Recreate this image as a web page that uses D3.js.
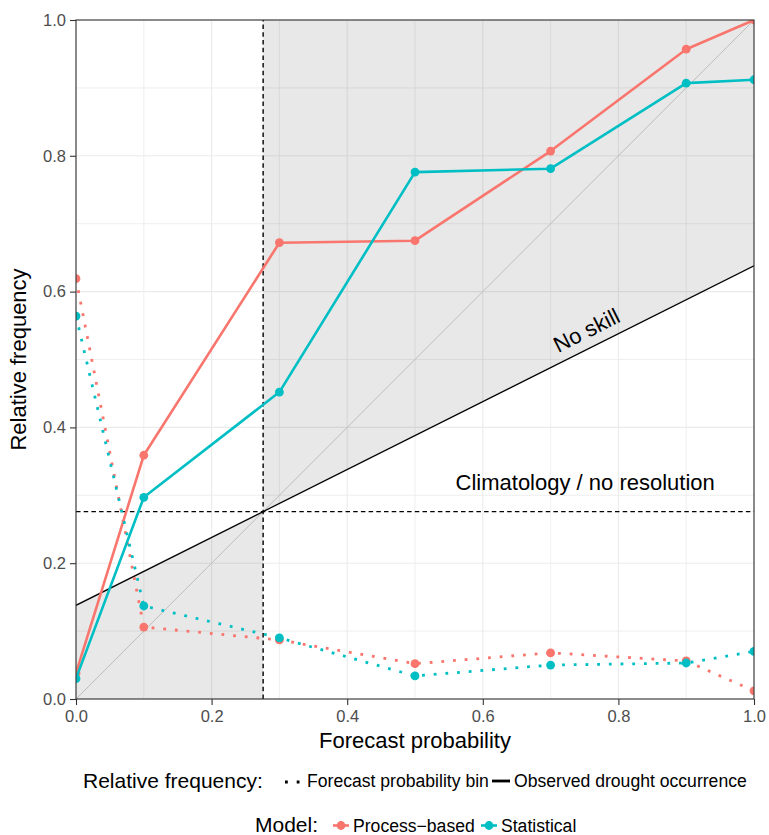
<!DOCTYPE html>
<html>
<head>
<meta charset="utf-8">
<script src="https://cdn.jsdelivr.net/npm/d3@7/dist/d3.min.js"></script>
<style>
  html, body { margin: 0; padding: 0; background: #fff; }
  svg { display: block; font-family: "Liberation Sans", Arial, sans-serif; }
</style>
</head>
<body>
<svg id="chart" width="769" height="835"></svg>
<script>
// Forecast probability bins (x positions)
const probBins = [0, 0.1, 0.3, 0.5, 0.7, 0.9, 1.0];
// Observed drought occurrence per bin
const processObserved = [0.038, 0.359, 0.672, 0.675, 0.807, 0.957, 1.0];
const statisticalObserved = [0.030, 0.297, 0.452, 0.776, 0.781, 0.907, 0.912];
// Share of forecasts falling in each bin
const processBinFreq = [0.619, 0.106, 0.087, 0.052, 0.068, 0.056, 0.012];
const statisticalBinFreq = [0.564, 0.137, 0.090, 0.034, 0.050, 0.053, 0.070];
// Climatological drought frequency
const climatology = 0.276;
const tickValues = [0, 0.2, 0.4, 0.6, 0.8, 1.0];
const gridValues = [0, 0.1, 0.2, 0.3, 0.4, 0.5, 0.6, 0.7, 0.8, 0.9, 1.0];
const models = ["Process\u2212based", "Statistical"];
const modelColors = ["#F8766D", "#00BFC4"];

const svg = d3.select("#chart");
const plot = { left: 76, right: 754, top: 20, bottom: 699 };
const x = d3.scaleLinear().domain([0, 1]).range([plot.left, plot.right]);
const y = d3.scaleLinear().domain([0, 1]).range([plot.bottom, plot.top]);

svg.append("rect").attr("width", 769).attr("height", 835).attr("fill", "#fff");

svg.append("defs").append("clipPath").attr("id", "panel")
  .append("rect").attr("x", plot.left).attr("y", plot.top)
  .attr("width", plot.right - plot.left).attr("height", plot.bottom - plot.top);

// grid
const grid = svg.append("g");
grid.selectAll("line.v").data(gridValues).join("line")
  .attr("x1", d => x(d)).attr("x2", d => x(d))
  .attr("y1", plot.top).attr("y2", plot.bottom)
  .attr("stroke", "#ebebeb").attr("stroke-width", d => (Math.round(d * 10) % 2 === 0 ? 1.1 : 0.8));
grid.selectAll("line.h").data(gridValues).join("line")
  .attr("y1", d => y(d)).attr("y2", d => y(d))
  .attr("x1", plot.left).attr("x2", plot.right)
  .attr("stroke", "#ebebeb").attr("stroke-width", d => (Math.round(d * 10) % 2 === 0 ? 1.1 : 0.8));

const panel = svg.append("g").attr("clip-path", "url(#panel)");
const noSkill = p => (p + climatology) / 2;

// skill regions
const area = d3.line().x(d => x(d[0])).y(d => y(d[1]));
panel.append("path")
  .attr("d", area([[0, 0], [climatology, 0], [climatology, noSkill(climatology)], [0, noSkill(0)]]) + "Z")
  .attr("fill", "rgba(0,0,0,0.09)");
panel.append("path")
  .attr("d", area([[climatology, noSkill(climatology)], [1, noSkill(1)], [1, 1], [climatology, 1]]) + "Z")
  .attr("fill", "rgba(0,0,0,0.09)");

// perfect reliability diagonal
panel.append("line").attr("x1", x(0)).attr("y1", y(0)).attr("x2", x(1)).attr("y2", y(1))
  .attr("stroke", "#bdbdbd").attr("stroke-width", 1);
// no-skill line
panel.append("line").attr("x1", x(0)).attr("y1", y(noSkill(0))).attr("x2", x(1)).attr("y2", y(noSkill(1)))
  .attr("stroke", "#000").attr("stroke-width", 1.3);
// climatology reference lines
panel.append("line").attr("x1", x(climatology)).attr("x2", x(climatology))
  .attr("y1", y(0)).attr("y2", y(1))
  .attr("stroke", "#000").attr("stroke-width", 1.4).attr("stroke-dasharray", "4.5,3.2");
panel.append("line").attr("y1", y(climatology)).attr("y2", y(climatology))
  .attr("x1", x(0)).attr("x2", x(1))
  .attr("stroke", "#000").attr("stroke-width", 1.4).attr("stroke-dasharray", "4.5,3.2");

const line = d3.line().x((d, i) => x(probBins[i])).y(d => y(d));
const series = [
  { obs: processObserved, bin: processBinFreq, color: modelColors[0] },
  { obs: statisticalObserved, bin: statisticalBinFreq, color: modelColors[1] }
];

series.forEach(s => {
  panel.append("path").attr("d", line(s.bin)).attr("fill", "none")
    .attr("stroke", s.color).attr("stroke-width", 2.8).attr("stroke-dasharray", "2.8,8.9");
  panel.append("path").attr("d", line(s.obs)).attr("fill", "none")
    .attr("stroke", s.color).attr("stroke-width", 2.6).attr("stroke-linejoin", "round");
  panel.selectAll(null).data(s.bin.concat(s.obs)).join("circle")
    .attr("cx", (d, i) => x(probBins[i % probBins.length])).attr("cy", d => y(d))
    .attr("r", 4.4).attr("fill", s.color);
});

// panel border
svg.append("rect").attr("x", plot.left).attr("y", plot.top)
  .attr("width", plot.right - plot.left).attr("height", plot.bottom - plot.top)
  .attr("fill", "none").attr("stroke", "#333").attr("stroke-width", 1.1);

// axes
const fmt = d3.format(".1f");
const xAxis = svg.append("g").attr("transform", `translate(0,${plot.bottom})`)
  .call(d3.axisBottom(x).tickValues(tickValues).tickFormat(fmt).tickSize(6).tickPadding(5));
const yAxis = svg.append("g").attr("transform", `translate(${plot.left},0)`)
  .call(d3.axisLeft(y).tickValues(tickValues).tickFormat(fmt).tickSize(6).tickPadding(4));
[xAxis, yAxis].forEach(a => {
  a.select(".domain").remove();
  a.selectAll(".tick line").attr("stroke", "#333").attr("stroke-width", 1.1);
  a.selectAll(".tick text").attr("fill", "#4d4d4d").attr("font-size", 16.5)
    .attr("font-family", "Liberation Sans, Arial, sans-serif");
});

// axis titles
svg.append("text").attr("x", (plot.left + plot.right) / 2).attr("y", 748)
  .attr("text-anchor", "middle").attr("font-size", 22).attr("fill", "#000").text("Forecast probability");
svg.append("text").attr("transform", `translate(26,${(plot.top + plot.bottom) / 2}) rotate(-90)`)
  .attr("text-anchor", "middle").attr("font-size", 22).attr("fill", "#000").text("Relative frequency");

// annotations
const noSkillAngle = Math.atan2(y(noSkill(0)) - y(noSkill(1)), x(1) - x(0)) * 180 / Math.PI;
svg.append("text")
  .attr("transform", `translate(${x(0.758)},${y(0.533)}) rotate(${-noSkillAngle})`)
  .attr("text-anchor", "middle").attr("font-size", 22).attr("fill", "#000").text("No skill");
svg.append("text").attr("x", x(0.751)).attr("y", y(0.308))
  .attr("text-anchor", "middle").attr("font-size", 22).attr("fill", "#000").text("Climatology / no resolution");

// legend: line type
const lg1 = svg.append("g");
lg1.append("text").attr("x", 83).attr("y", 788).attr("font-size", 21).attr("fill", "#000").text("Relative frequency:");
lg1.append("line").attr("x1", 285).attr("x2", 305).attr("y1", 782).attr("y2", 782)
  .attr("stroke", "#000").attr("stroke-width", 2.8).attr("stroke-dasharray", "2.8,8.9");
lg1.append("text").attr("x", 307).attr("y", 787).attr("font-size", 17.6).attr("fill", "#000").text("Forecast probability bin");
lg1.append("line").attr("x1", 492).attr("x2", 510).attr("y1", 781).attr("y2", 781)
  .attr("stroke", "#000").attr("stroke-width", 2.8);
lg1.append("text").attr("x", 514).attr("y", 787).attr("font-size", 17.6).attr("fill", "#000").text("Observed drought occurrence");

// legend: model colour
const lg2 = svg.append("g");
lg2.append("text").attr("x", 255).attr("y", 832).attr("font-size", 21).attr("fill", "#000").text("Model:");
const keyX = [341, 489];
const labelX = [353, 501];
models.forEach((m, i) => {
  lg2.append("line").attr("x1", keyX[i] - 8).attr("x2", keyX[i] + 8).attr("y1", 825.5).attr("y2", 825.5)
    .attr("stroke", modelColors[i]).attr("stroke-width", 2.6);
  lg2.append("circle").attr("cx", keyX[i]).attr("cy", 825.5).attr("r", 4.4).attr("fill", modelColors[i]);
  lg2.append("text").attr("x", labelX[i]).attr("y", 832).attr("font-size", 17.6).attr("fill", "#000").text(m);
});
</script>
</body>
</html>
